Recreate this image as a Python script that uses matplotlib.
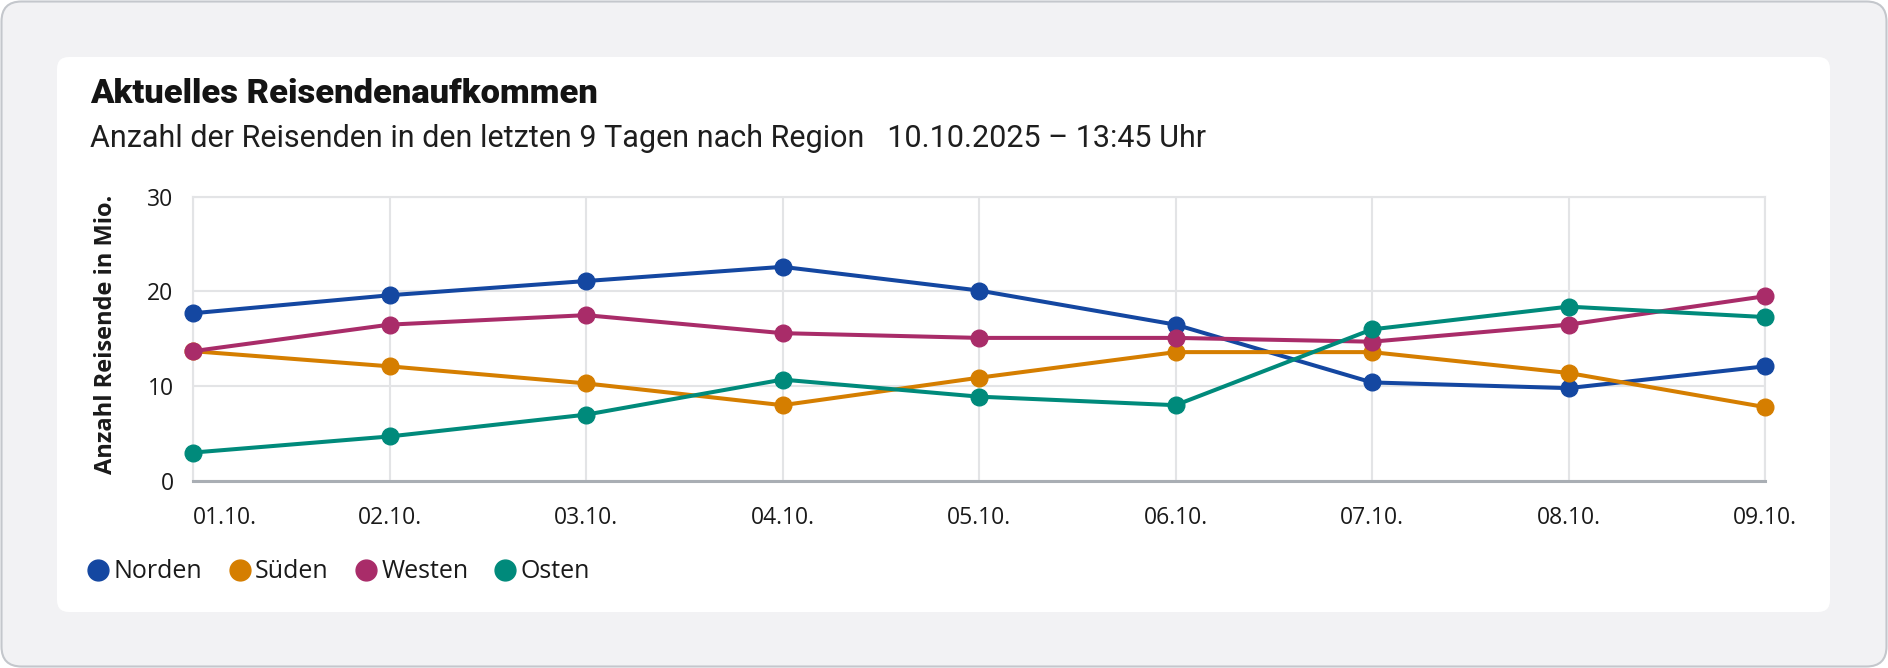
import matplotlib
matplotlib.use("Agg")
from matplotlib import pyplot as plt
from matplotlib.lines import Line2D
from matplotlib.patches import FancyBboxPatch

# data
days = ["01.10.", "02.10.", "03.10.", "04.10.", "05.10.", "06.10.", "07.10.", "08.10.", "09.10."]
norden = [17.7, 19.6, 21.1, 22.6, 20.1, 16.5, 10.4, 9.8, 12.1]
sueden = [13.7, 12.1, 10.3, 8.0, 10.9, 13.6, 13.6, 11.4, 7.8]
westen = [13.7, 16.5, 17.5, 15.6, 15.1, 15.1, 14.7, 16.5, 19.5]
osten = [3.0, 4.7, 7.0, 10.7, 8.9, 8.0, 16.0, 18.4, 17.3]
names = ["Norden", "Süden", "Westen", "Osten"]
colors = ["#1447a1", "#d57e00", "#a92c69", "#008a7b"]
yticks = [0, 10, 20, 30]

W, H = 1888, 668
fig = plt.figure(figsize=(W / 100, H / 100), dpi=100)
fig.patch.set_facecolor("white")

# outer grey frame and white card, in inches so the corners stay round
outer = FancyBboxPatch((0.015, 0.015), W / 100 - 0.03, H / 100 - 0.03,
                       boxstyle="round,pad=0,rounding_size=0.2",
                       transform=fig.dpi_scale_trans, facecolor="#f2f2f4",
                       edgecolor="#c4c7cc", lw=1.5, zorder=-10)
card = FancyBboxPatch((0.57, (H - 612) / 100), (1830 - 57) / 100, (612 - 57) / 100,
                      boxstyle="round,pad=0,rounding_size=0.12",
                      transform=fig.dpi_scale_trans, facecolor="white",
                      edgecolor="none", zorder=-9)
fig.patches.extend([outer, card])

fig.text(90 / W, 1 - 103 / H, "Aktuelles Reisendenaufkommen", family=["Roboto", "DejaVu Sans"],
         weight="black", fontsize=24.8, color="#141414", va="baseline", ha="left")
fig.text(90 / W, 1 - 147 / H,
         "Anzahl der Reisenden in den letzten 9 Tagen nach Region   10.10.2025 – 13:45 Uhr",
         family=["Roboto", "DejaVu Sans"], weight="normal", fontsize=22, color="#1e1e1e",
         va="baseline", ha="left")

ax = fig.add_axes([193 / W, 1 - 481 / H, (1765 - 193) / W, (481 - 196.7) / H])
x = list(range(len(days)))
for vals, c in zip([norden, sueden, westen, osten], colors):
    ax.plot(x, vals, color=c, lw=2.9, marker="o", ms=12, clip_on=False, zorder=3)

ax.set_xlim(0, len(days) - 1)
ax.set_ylim(0, 30)
ax.set_yticks(yticks)
ax.set_xticks(x)
ax.set_xticklabels(days)
ax.get_xticklabels()[0].set_horizontalalignment("left")
ax.grid(True, color="#e3e4e6", lw=1.5, zorder=0)
ax.set_axisbelow(True)
for s in ["left", "right", "top"]:
    ax.spines[s].set_color("#e3e4e6")
    ax.spines[s].set_linewidth(1.5)
ax.spines["bottom"].set_color("#a9aeb4")
ax.spines["bottom"].set_linewidth(2.2)
ax.tick_params(length=0, labelsize=16.5, labelcolor="#1a1a1a")
ax.tick_params(axis="x", pad=18)
ax.tick_params(axis="y", pad=14)
for lab in ax.get_xticklabels() + ax.get_yticklabels():
    lab.set_family(["Open Sans", "DejaVu Sans"])

fig.text(106 / W, 1 - 334 / H, "Anzahl Reisende in Mio.", rotation=90, family=["Open Sans", "DejaVu Sans"],
         weight="bold", fontsize=17, color="#1a1a1a", va="center", ha="center")

handles = [Line2D([], [], ls="", marker="o", ms=15, color=c) for c in colors]
fig.legend(handles, names, loc="center left", bbox_to_anchor=(89 / W, 1 - 572 / H), ncol=4,
           frameon=False, handlelength=0.75, handletextpad=0.25, columnspacing=1.1,
           borderaxespad=0, borderpad=0, prop={"family": ["Open Sans", "DejaVu Sans"], "size": 18},
           labelcolor="#1a1a1a")

fig.savefig("out.png", dpi=100)
